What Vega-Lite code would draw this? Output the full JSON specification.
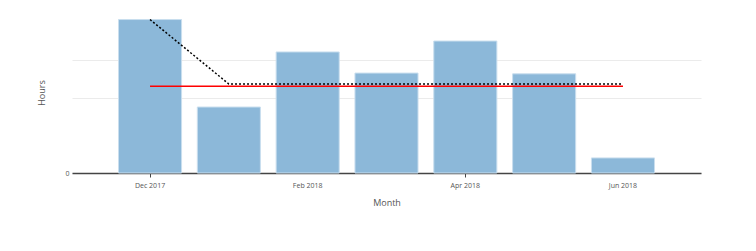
{
  "$schema": "https://vega.github.io/schema/vega-lite/v6.json",
  "width": 629,
  "height": 161,
  "autosize": "none",
  "padding": {"left": 72, "top": 12, "right": 55, "bottom": 78},
  "background": "white",
  "config": {
    "view": {"stroke": null},
    "font": "Open Sans",
    "axis": {"labelFont": "Open Sans", "titleFont": "Open Sans", "labelColor": "#555", "titleColor": "#555", "titleFontWeight": "normal"}
  },
  "data": {
    "values": [
      {"month": "Dec 2017", "hours": 4.07, "target": 2.3, "trend": 4.07},
      {"month": "Jan 2018", "hours": 1.75, "target": 2.3, "trend": 2.36},
      {"month": "Feb 2018", "hours": 3.21, "target": 2.3, "trend": 2.36},
      {"month": "Mar 2018", "hours": 2.65, "target": 2.3, "trend": 2.36},
      {"month": "Apr 2018", "hours": 3.5, "target": 2.3, "trend": 2.36},
      {"month": "May 2018", "hours": 2.63, "target": 2.3, "trend": 2.36},
      {"month": "Jun 2018", "hours": 0.4, "target": 2.3, "trend": 2.36}
    ]
  },
  "encoding": {
    "x": {
      "field": "month",
      "type": "ordinal",
      "sort": null,
      "scale": {"paddingInner": 0.2, "paddingOuter": 0.59},
      "axis": {
        "title": "Month",
        "values": ["Dec 2017", "Feb 2018", "Apr 2018", "Jun 2018"],
        "labelAngle": 0,
        "labelFontSize": 7,
        "labelPadding": 4,
        "titleFontSize": 9,
        "titlePadding": 10,
        "domainColor": "#444",
        "domainWidth": 1.5,
        "tickColor": "#444",
        "tickOpacity": {"condition": {"test": "datum.value == 'Feb 2018' || datum.value == 'Jun 2018'", "value": 0}, "value": 1},
        "tickSize": 4,
        "grid": false
      }
    }
  },
  "layer": [
    {
      "mark": {"type": "bar", "color": "#8cb8d9", "stroke": "#c9deee", "strokeWidth": 1},
      "encoding": {
        "y": {
          "field": "hours",
          "type": "quantitative",
          "scale": {"domain": [0, 4.27], "nice": false},
          "axis": {
            "title": "Hours",
            "values": [0, 2, 3],
            "labelExpr": "datum.value == 0 ? '0' : ''",
            "labelFontSize": 7,
            "labelPadding": 3,
            "titleFontSize": 9,
            "titlePadding": 18,
            "domain": false,
            "ticks": false,
            "gridColor": "#ebebeb",
            "gridWidth": 1
          }
        }
      }
    },
    {
      "mark": {"type": "line", "color": "red", "strokeWidth": 1.5},
      "encoding": {"y": {"field": "target", "type": "quantitative"}}
    },
    {
      "mark": {"type": "line", "color": "black", "strokeWidth": 1.5, "strokeDash": [2, 2]},
      "encoding": {"y": {"field": "trend", "type": "quantitative"}}
    }
  ]
}
